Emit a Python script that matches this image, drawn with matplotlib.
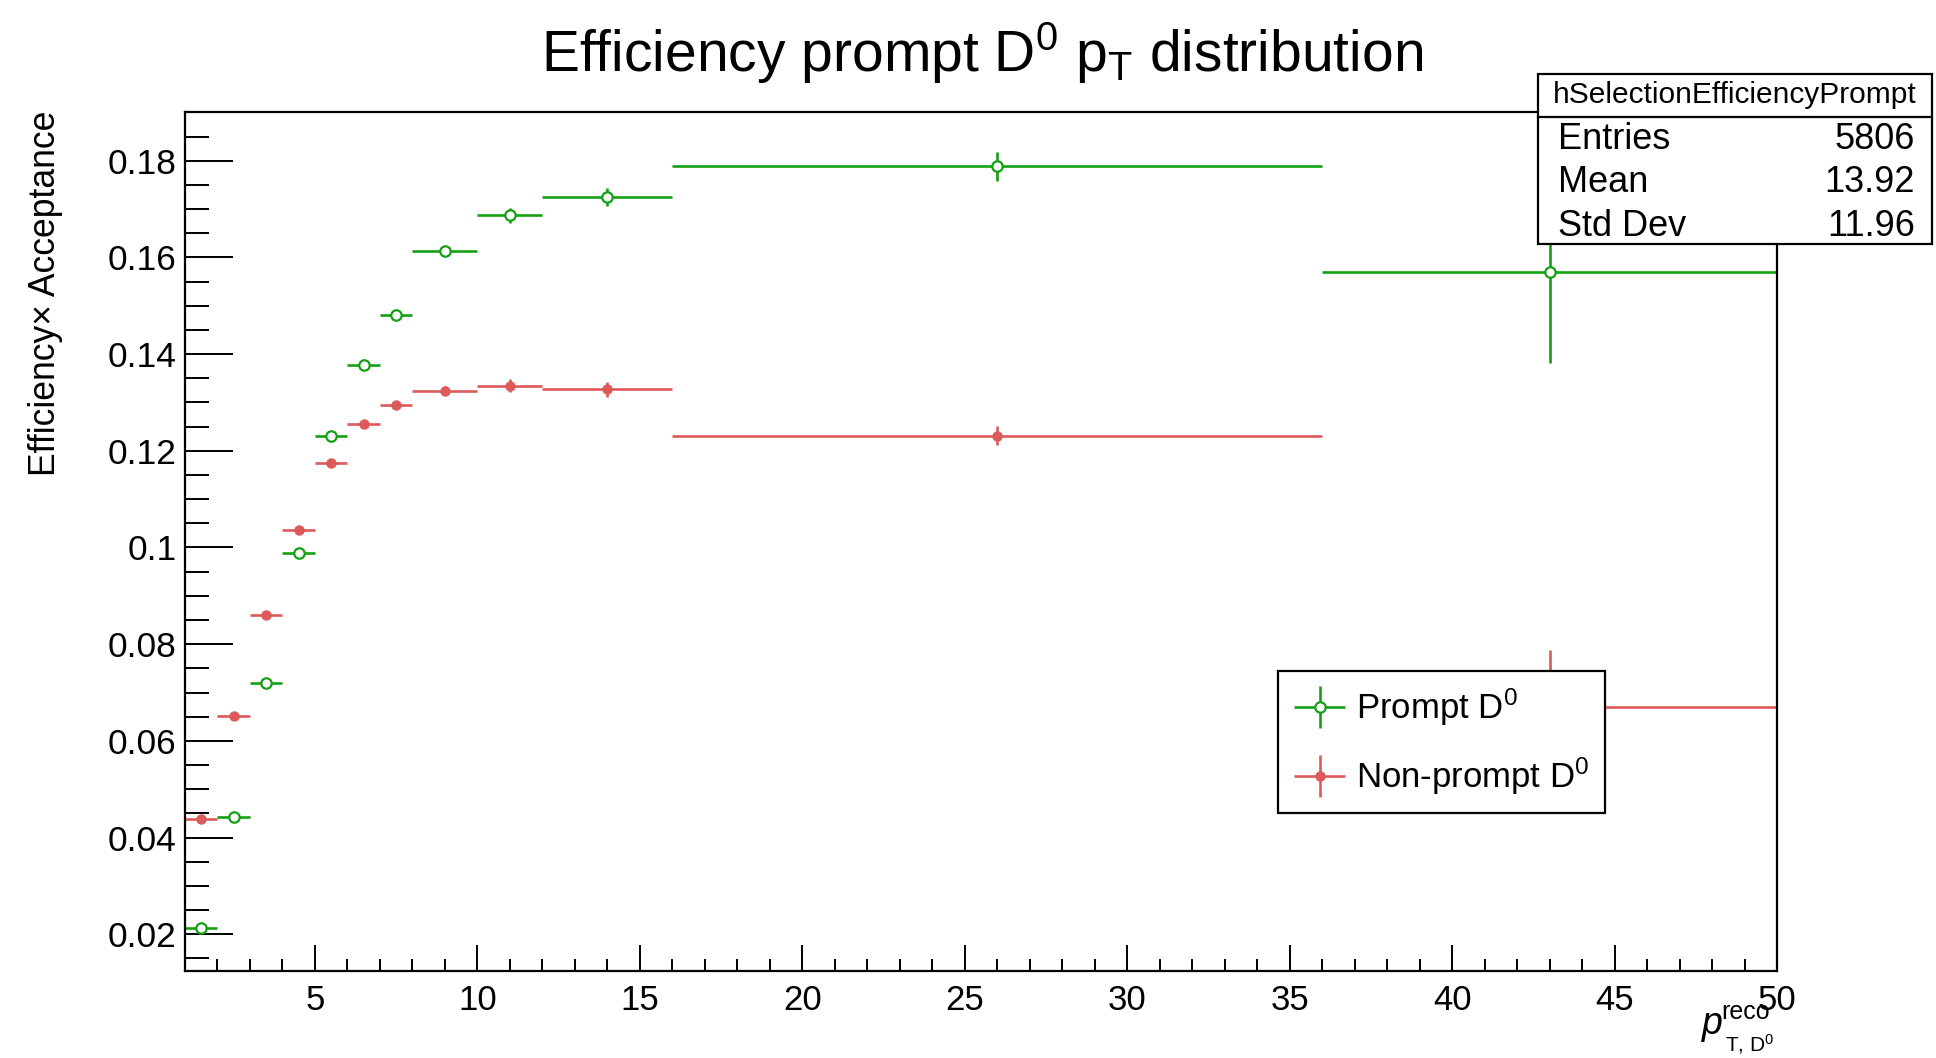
import numpy as np
from matplotlib import pyplot as plt
from matplotlib.patches import Rectangle
from matplotlib.ticker import MultipleLocator, FuncFormatter
from matplotlib.legend_handler import HandlerErrorbar

plt.rcParams['font.family'] = ['Liberation Sans', 'DejaVu Sans']
plt.rcParams['mathtext.fontset'] = 'custom'
plt.rcParams['mathtext.rm'] = 'Liberation Sans'
plt.rcParams['mathtext.it'] = 'Liberation Sans:italic'
plt.rcParams['mathtext.bf'] = 'Liberation Sans:bold'

# pT bins (GeV/c)
bin_edges = np.array([1, 2, 3, 4, 5, 6, 7, 8, 10, 12, 16, 36, 50])

prompt_eff = np.array([0.0213, 0.0443, 0.0720, 0.0988, 0.1230, 0.1378,
                       0.1481, 0.1613, 0.1687, 0.1725, 0.1788, 0.1570])
prompt_err = np.array([0.0005, 0.0006, 0.0007, 0.0008, 0.0009, 0.0010,
                       0.0011, 0.0011, 0.0015, 0.0018, 0.0029, 0.0188])
nonprompt_eff = np.array([0.0438, 0.0651, 0.0860, 0.1036, 0.1175, 0.1256,
                          0.1294, 0.1324, 0.1335, 0.1327, 0.1231, 0.0670])
nonprompt_err = np.array([0.0004, 0.0005, 0.0005, 0.0006, 0.0006, 0.0007,
                          0.0008, 0.0009, 0.0013, 0.0015, 0.0020, 0.0117])

stats_name = 'hSelectionEfficiencyPrompt'
stats_labels = ['Entries', 'Mean', 'Std Dev']
stats_values = ['5806', '13.92', '11.96']

green = '#14a014'
red = '#dd5a5a'

W, H = 1936, 1058


def fx(x):
    return x / W


def fy(y):
    return 1 - y / H


centers = 0.5 * (bin_edges[1:] + bin_edges[:-1])
half_w = 0.5 * (bin_edges[1:] - bin_edges[:-1])

fig = plt.figure(figsize=(W / 100, H / 100), dpi=100)
ax = fig.add_axes([fx(185), fy(971), fx(1777) - fx(185), fy(111.7) - fy(971)])

h1 = ax.errorbar(centers, prompt_eff, xerr=half_w, yerr=prompt_err, fmt='o',
                 color=green, mfc='white', mec=green, ms=7.5, mew=1.6,
                 elinewidth=1.9, capsize=0, label='Prompt D$^{0}$')
h2 = ax.errorbar(centers, nonprompt_eff, xerr=half_w, yerr=nonprompt_err, fmt='o',
                 color=red, mfc=red, mec=red, ms=6.5, mew=1.0,
                 elinewidth=1.9, capsize=0, label='Non-prompt D$^{0}$')

ax.set_xlim(1, 50)
ax.set_ylim(0.01241, 0.19013)

ax.xaxis.set_major_locator(MultipleLocator(5))
ax.xaxis.set_minor_locator(MultipleLocator(1))
ax.yaxis.set_major_locator(MultipleLocator(0.02))
ax.yaxis.set_minor_locator(MultipleLocator(0.005))
ax.yaxis.set_major_formatter(FuncFormatter(lambda v, p: '%g' % round(v, 4)))
ax.xaxis.set_major_formatter(FuncFormatter(lambda v, p: '%g' % v))

ax.xaxis.set_tick_params(which='major', direction='in', length=19, width=1.4,
                         labelsize=25, pad=9)
ax.xaxis.set_tick_params(which='minor', direction='in', length=9, width=1.4)
ax.yaxis.set_tick_params(which='major', direction='in', length=34.5, width=1.4,
                         labelsize=25.5, pad=6)
ax.yaxis.set_tick_params(which='minor', direction='in', length=17, width=1.4)
for s in ax.spines.values():
    s.set_linewidth(1.6)

# legend
leg = ax.legend(handles=[h1, h2], loc='upper left',
                bbox_to_anchor=(fx(1278), fy(671)), bbox_transform=fig.transFigure,
                borderaxespad=0, fontsize=25, frameon=True, fancybox=False,
                edgecolor='black', framealpha=1, handlelength=1.5,
                handletextpad=0.3, labelspacing=0.8, borderpad=0.45,
                handler_map={type(h1): HandlerErrorbar(xerr_size=0.74, yerr_size=0.6)})
leg.get_frame().set_linewidth(1.6)

# title
fig.text(fx(982), fy(72), 'Efficiency prompt D$^{0}$ p$_{\\mathrm{T}}$ distribution',
         fontsize=41, ha='center', va='baseline')

# y axis title
fig.text(fx(46), fy(111), 'Efficiency\u00d7 Acceptance', rotation=90,
         fontsize=25.6, ha='center', va='top')

# x axis title
fig.text(fx(1702), fy(1034), 'p', fontsize=27, style='italic', ha='left', va='baseline')
fig.text(fx(1721), fy(1019), 'reco', fontsize=18, ha='left', va='baseline')
fig.text(fx(1725), fy(1051), 'T, D$^{0}$', fontsize=15, ha='left', va='baseline')

# stats box
x0, x1 = fx(1538), fx(1932)
y_top, y_div, y_bot = fy(74), fy(117), fy(244)
fig.add_artist(Rectangle((x0, y_bot), x1 - x0, y_top - y_bot, transform=fig.transFigure,
                         facecolor='white', edgecolor='black', linewidth=1.6, zorder=10))
fig.add_artist(plt.Line2D([x0, x1], [y_div, y_div], transform=fig.transFigure,
                          color='black', linewidth=1.6, zorder=11))
fig.text(0.5 * (x0 + x1), fy(95), stats_name, fontsize=21.5, ha='center', va='center', zorder=12)
row_y = [140, 183, 226]
for lab, val, yy in zip(stats_labels, stats_values, row_y):
    fig.text(fx(1558), fy(yy), lab, fontsize=26, ha='left', va='center', zorder=12)
    fig.text(fx(1915), fy(yy), val, fontsize=26, ha='right', va='center', zorder=12)

fig.savefig('out.png', dpi=100)
